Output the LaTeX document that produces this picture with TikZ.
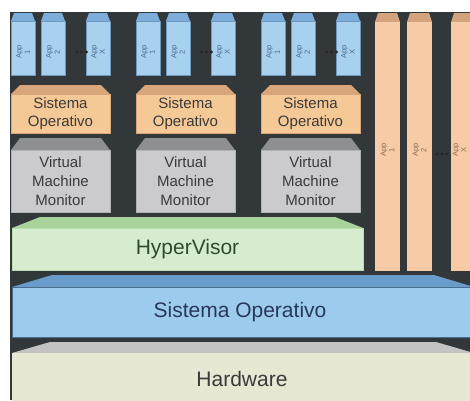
\documentclass[tikz,border=0pt]{standalone}
\usepackage{fontspec}
\setmainfont{Liberation Sans}
\definecolor{bgc}{HTML}{32383A}
\definecolor{appf}{HTML}{A8D1F0}
\definecolor{appb}{HTML}{7DAEDB}
\definecolor{appd}{HTML}{6F98BE}
\definecolor{orf}{HTML}{F6CBA6}
\definecolor{orb}{HTML}{D3A37E}
\definecolor{sof}{HTML}{F5C996}
\definecolor{sob}{HTML}{D8A67A}
\definecolor{vmf}{HTML}{CBCBCF}
\definecolor{vmb}{HTML}{8E8F92}
\definecolor{hvf}{HTML}{D7ECCE}
\definecolor{hvb}{HTML}{A8D49C}
\definecolor{bsf}{HTML}{9DCBEE}
\definecolor{bsb}{HTML}{699CCA}
\definecolor{hwf}{HTML}{E7E8D4}
\definecolor{hwb}{HTML}{C3C3C3}
\definecolor{txt}{HTML}{3A3A3A}
\definecolor{apptxt}{HTML}{4A6A90}
\definecolor{ortxt}{HTML}{8C6E55}
\definecolor{hvtxt}{HTML}{2F4A30}
\definecolor{bstxt}{HTML}{26395A}
\newcommand\mybevel[6]{\fill[#6] (#1,#4) -- (#1+#5,#3) -- (#2-#5,#3) -- (#2,#4) -- cycle;}
\tikzset{
  boxbase/.style={anchor=north west, inner sep=0pt, outer sep=0pt, text=txt, align=center},
  appbox/.style={boxbase, fill=appf, draw=appd, line width=0.4pt, minimum width=24pt, minimum height=54pt},
  orbox/.style={boxbase, fill=orf, minimum width=25pt, minimum height=249pt},
  sobox/.style={boxbase, fill=sof, draw=sob, line width=0.5pt, minimum width=99pt, minimum height=39pt, font=\fontsize{15}{18}\selectfont},
  vmbox/.style={boxbase, fill=vmf, draw=vmb!70, line width=0.5pt, minimum width=99pt, minimum height=62pt, font=\fontsize{15}{19}\selectfont},
  apptext/.style={rotate=90, align=center, inner sep=0pt, text=apptxt, font=\fontsize{7.5}{8.5}\selectfont},
  bigtext/.style={font=\fontsize{21}{24}\selectfont},
  dotc/.style={fill=black!85}
}
\begin{document}
\begin{tikzpicture}[x=1pt,y=-1pt]
\useasboundingbox (0,0) rectangle (470,400);
\fill[bgc] (10,12) rectangle (470,400);
% guest stacks
\foreach \g/\gx in {1/11,2/136,3/261}{
  \foreach \a/\ax/\lab in {1/0/1,2/30/2,3/75/X}{
    \mybevel{\gx+\ax}{\gx+\ax+24}{13}{21}{3}{appb}
    \node[appbox] (g\g a\a) at (\gx+\ax,21) {};
    \node[apptext] (g\g t\a) at ([yshift=-4pt]g\g a\a.center) {App\\\lab};
  }
  \foreach \d in {-5,0,5}{\fill[dotc] (\gx+70.5+\d,52) circle (1.6);}
  \mybevel{\gx}{\gx+99}{85}{94}{9}{sob}
  \node[sobox] (so\g) at (\gx,94) {Sistema\\Operativo};
  \mybevel{\gx}{\gx+99}{138}{150}{9}{vmb}
  \node[vmbox] (vm\g) at (\gx,150) {Virtual\\Machine\\Monitor};
}
% host apps
\foreach \c/\cx/\dx/\lab in {1/375/0/1,2/407/0/2,3/451/-4/X}{
  \mybevel{\cx}{\cx+25}{13}{22}{3}{orb}
  \node[orbox] (oc\c) at (\cx,22) {};
  \node[apptext, text=ortxt] (ot\c) at ([yshift=-3.5pt,xshift=\dx pt]oc\c.center) {App\\\lab};
}
\foreach \d in {-5,0,5}{\fill[dotc] (442+\d,154) circle (1.6);}
% hypervisor
\mybevel{12}{363}{217}{228}{28}{hvb}
\node[boxbase, fill=hvf, draw=hvb!80, line width=0.5pt, minimum width=351pt, minimum height=42pt, bigtext, text=hvtxt] (hv) at (12,228) {HyperVisor};
% host OS
\mybevel{12}{474}{275}{287}{40}{bsb}
\node[boxbase, fill=bsf, draw=bsb!70!black, line width=0.8pt, minimum width=462pt, minimum height=50pt, bigtext, text=bstxt] (hos) at (12,287) {\hspace*{-6pt}Sistema Operativo};
% hardware
\mybevel{12}{474}{342}{353}{38}{hwb}
\node[boxbase, fill=hwf, minimum width=462pt, minimum height=50pt, bigtext] (hw) at (12,353) {};
\node[bigtext, text=txt, inner sep=0pt] (hwt) at (242,379) {Hardware};
\end{tikzpicture}
\end{document}
